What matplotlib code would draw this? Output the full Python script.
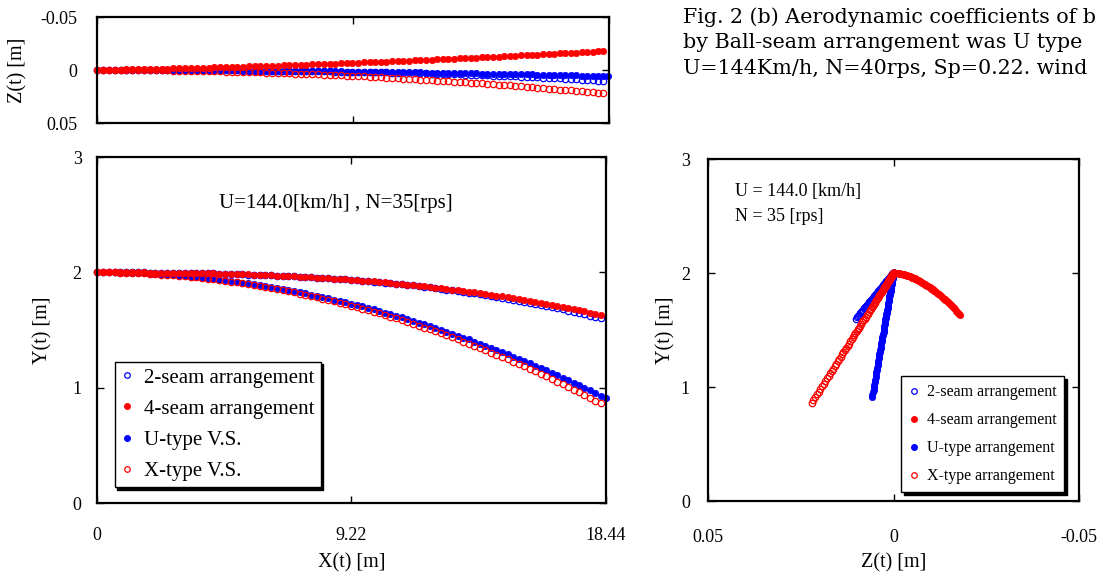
import matplotlib.pyplot as plt
from matplotlib.lines import Line2D

# Position along the pitch X(t) [m] (U-type keeps one more sample)
x_pos = [0.00, 0.21, 0.43, 0.64, 0.85, 1.06, 1.28, 1.49, 1.70, 1.91,
         2.12, 2.33, 2.54, 2.75, 2.97, 3.18, 3.39, 3.60, 3.81, 4.02,
         4.22, 4.43, 4.64, 4.85, 5.06, 5.27, 5.48, 5.69, 5.89, 6.10,
         6.31, 6.52, 6.73, 6.93, 7.14, 7.35, 7.55, 7.76, 7.97, 8.17,
         8.38, 8.58, 8.79, 9.00, 9.20, 9.41, 9.61, 9.82, 10.02, 10.22,
         10.43, 10.63, 10.84, 11.04, 11.24, 11.45, 11.65, 11.85, 12.06, 12.26,
         12.46, 12.66, 12.86, 13.07, 13.27, 13.47, 13.67, 13.87, 14.07, 14.27,
         14.47, 14.68, 14.88, 15.08, 15.28, 15.48, 15.67, 15.87, 16.07, 16.27,
         16.47, 16.67, 16.87, 17.07, 17.27, 17.46, 17.66, 17.86, 18.06, 18.25,
         18.43]

# Height Y(t) [m]
y_2seam = [2.000, 2.000, 2.000, 2.000, 2.000, 1.999, 1.999, 1.999, 1.999, 1.998,
           1.998, 1.997, 1.997, 1.996, 1.995, 1.995, 1.994, 1.993, 1.992, 1.991,
           1.990, 1.989, 1.987, 1.986, 1.985, 1.983, 1.981, 1.980, 1.978, 1.976,
           1.974, 1.972, 1.970, 1.967, 1.965, 1.962, 1.960, 1.957, 1.954, 1.951,
           1.948, 1.945, 1.941, 1.938, 1.934, 1.931, 1.927, 1.923, 1.919, 1.914,
           1.910, 1.905, 1.901, 1.896, 1.891, 1.886, 1.880, 1.875, 1.869, 1.863,
           1.857, 1.851, 1.845, 1.838, 1.832, 1.825, 1.818, 1.811, 1.803, 1.796,
           1.788, 1.780, 1.772, 1.763, 1.755, 1.746, 1.737, 1.728, 1.718, 1.709,
           1.699, 1.689, 1.679, 1.668, 1.657, 1.646, 1.635, 1.624, 1.612, 1.600]
y_4seam = [2.000, 2.000, 2.000, 2.000, 2.000, 1.999, 1.999, 1.999, 1.999, 1.998,
           1.998, 1.997, 1.997, 1.996, 1.995, 1.995, 1.994, 1.993, 1.992, 1.991,
           1.990, 1.989, 1.987, 1.986, 1.985, 1.983, 1.982, 1.980, 1.978, 1.976,
           1.974, 1.972, 1.970, 1.968, 1.965, 1.963, 1.960, 1.958, 1.955, 1.952,
           1.949, 1.946, 1.943, 1.939, 1.936, 1.932, 1.928, 1.925, 1.921, 1.916,
           1.912, 1.908, 1.903, 1.899, 1.894, 1.889, 1.884, 1.879, 1.874, 1.868,
           1.862, 1.857, 1.851, 1.845, 1.839, 1.832, 1.826, 1.819, 1.812, 1.805,
           1.798, 1.791, 1.783, 1.775, 1.768, 1.760, 1.752, 1.743, 1.735, 1.726,
           1.717, 1.708, 1.699, 1.690, 1.680, 1.670, 1.661, 1.651, 1.640, 1.630]
y_utype = [2.000, 2.000, 1.999, 1.999, 1.998, 1.996, 1.995, 1.993, 1.991, 1.988,
           1.986, 1.983, 1.979, 1.976, 1.972, 1.968, 1.963, 1.959, 1.954, 1.948,
           1.943, 1.937, 1.931, 1.924, 1.918, 1.911, 1.904, 1.896, 1.889, 1.881,
           1.872, 1.864, 1.855, 1.846, 1.836, 1.827, 1.817, 1.807, 1.796, 1.786,
           1.775, 1.764, 1.752, 1.740, 1.728, 1.716, 1.704, 1.691, 1.678, 1.665,
           1.651, 1.637, 1.623, 1.609, 1.594, 1.580, 1.564, 1.549, 1.534, 1.518,
           1.502, 1.485, 1.469, 1.452, 1.435, 1.418, 1.400, 1.382, 1.364, 1.346,
           1.328, 1.309, 1.290, 1.270, 1.251, 1.232, 1.211, 1.191, 1.171, 1.150,
           1.129, 1.108, 1.087, 1.065, 1.043, 1.021, 0.999, 0.976, 0.954, 0.930,
           0.910]
y_xtype = [2.000, 2.000, 1.999, 1.999, 1.998, 1.996, 1.994, 1.992, 1.990, 1.988,
           1.985, 1.981, 1.978, 1.974, 1.970, 1.966, 1.961, 1.956, 1.951, 1.945,
           1.939, 1.933, 1.927, 1.920, 1.913, 1.905, 1.898, 1.890, 1.882, 1.873,
           1.864, 1.855, 1.846, 1.836, 1.826, 1.816, 1.806, 1.795, 1.784, 1.772,
           1.761, 1.749, 1.737, 1.724, 1.711, 1.698, 1.685, 1.672, 1.658, 1.644,
           1.629, 1.615, 1.600, 1.584, 1.569, 1.553, 1.537, 1.521, 1.505, 1.488,
           1.471, 1.453, 1.436, 1.418, 1.400, 1.381, 1.363, 1.344, 1.325, 1.305,
           1.286, 1.266, 1.245, 1.225, 1.204, 1.184, 1.162, 1.141, 1.119, 1.097,
           1.075, 1.052, 1.030, 1.007, 0.984, 0.960, 0.936, 0.913, 0.888, 0.864]

# Lateral deviation Z(t) [m]
z_2seam = [0.0000, 0.0000, 0.0000, 0.0000, 0.0000, 0.0000, 0.0000, 0.0000, 0.0000, 0.0000,
           0.0001, 0.0001, 0.0001, 0.0001, 0.0001, 0.0001, 0.0002, 0.0002, 0.0002, 0.0002,
           0.0003, 0.0003, 0.0003, 0.0004, 0.0004, 0.0004, 0.0005, 0.0005, 0.0006, 0.0006,
           0.0007, 0.0007, 0.0008, 0.0008, 0.0009, 0.0010, 0.0010, 0.0011, 0.0012, 0.0012,
           0.0013, 0.0014, 0.0015, 0.0016, 0.0017, 0.0018, 0.0019, 0.0020, 0.0021, 0.0022,
           0.0023, 0.0024, 0.0025, 0.0027, 0.0028, 0.0029, 0.0031, 0.0032, 0.0033, 0.0035,
           0.0036, 0.0038, 0.0040, 0.0041, 0.0043, 0.0045, 0.0046, 0.0048, 0.0050, 0.0052,
           0.0054, 0.0056, 0.0058, 0.0060, 0.0063, 0.0065, 0.0067, 0.0069, 0.0072, 0.0074,
           0.0077, 0.0079, 0.0082, 0.0085, 0.0087, 0.0090, 0.0093, 0.0096, 0.0099, 0.0102]
z_4seam = [0.0000, -0.0001, -0.0002, -0.0003, -0.0004, -0.0005, -0.0006, -0.0008, -0.0009, -0.0010,
           -0.0011, -0.0012, -0.0014, -0.0015, -0.0016, -0.0018, -0.0019, -0.0020, -0.0022, -0.0023,
           -0.0025, -0.0026, -0.0028, -0.0029, -0.0031, -0.0032, -0.0034, -0.0036, -0.0037, -0.0039,
           -0.0041, -0.0042, -0.0044, -0.0046, -0.0048, -0.0050, -0.0051, -0.0053, -0.0055, -0.0057,
           -0.0059, -0.0061, -0.0063, -0.0065, -0.0067, -0.0069, -0.0071, -0.0073, -0.0075, -0.0077,
           -0.0080, -0.0082, -0.0084, -0.0086, -0.0088, -0.0091, -0.0093, -0.0095, -0.0098, -0.0100,
           -0.0102, -0.0105, -0.0107, -0.0110, -0.0112, -0.0114, -0.0117, -0.0119, -0.0122, -0.0125,
           -0.0127, -0.0130, -0.0132, -0.0135, -0.0138, -0.0140, -0.0143, -0.0146, -0.0149, -0.0151,
           -0.0154, -0.0157, -0.0160, -0.0163, -0.0165, -0.0168, -0.0171, -0.0174, -0.0177, -0.0180]
z_utype = [0.0000, 0.0000, 0.0000, 0.0000, 0.0000, 0.0000, 0.0000, 0.0000, 0.0000, 0.0001,
           0.0001, 0.0001, 0.0001, 0.0001, 0.0001, 0.0002, 0.0002, 0.0002, 0.0002, 0.0003,
           0.0003, 0.0003, 0.0004, 0.0004, 0.0004, 0.0005, 0.0005, 0.0006, 0.0006, 0.0006,
           0.0007, 0.0007, 0.0008, 0.0008, 0.0009, 0.0009, 0.0010, 0.0010, 0.0011, 0.0011,
           0.0012, 0.0013, 0.0013, 0.0014, 0.0014, 0.0015, 0.0016, 0.0016, 0.0017, 0.0018,
           0.0018, 0.0019, 0.0020, 0.0021, 0.0022, 0.0022, 0.0023, 0.0024, 0.0025, 0.0026,
           0.0026, 0.0027, 0.0028, 0.0029, 0.0030, 0.0031, 0.0032, 0.0033, 0.0034, 0.0035,
           0.0036, 0.0037, 0.0038, 0.0039, 0.0040, 0.0041, 0.0042, 0.0043, 0.0044, 0.0045,
           0.0046, 0.0047, 0.0048, 0.0050, 0.0051, 0.0052, 0.0053, 0.0054, 0.0055, 0.0057,
           0.0058]
z_xtype = [0.0000, 0.0000, 0.0000, 0.0000, 0.0000, 0.0001, 0.0001, 0.0001, 0.0002, 0.0002,
           0.0003, 0.0004, 0.0004, 0.0005, 0.0006, 0.0007, 0.0008, 0.0009, 0.0010, 0.0011,
           0.0012, 0.0013, 0.0014, 0.0016, 0.0017, 0.0018, 0.0020, 0.0021, 0.0023, 0.0025,
           0.0026, 0.0028, 0.0030, 0.0032, 0.0034, 0.0036, 0.0038, 0.0040, 0.0042, 0.0044,
           0.0046, 0.0049, 0.0051, 0.0054, 0.0056, 0.0059, 0.0061, 0.0064, 0.0066, 0.0069,
           0.0072, 0.0075, 0.0078, 0.0081, 0.0084, 0.0087, 0.0090, 0.0093, 0.0096, 0.0099,
           0.0103, 0.0106, 0.0109, 0.0113, 0.0116, 0.0120, 0.0124, 0.0127, 0.0131, 0.0135,
           0.0139, 0.0142, 0.0146, 0.0150, 0.0154, 0.0158, 0.0163, 0.0167, 0.0171, 0.0175,
           0.0179, 0.0184, 0.0188, 0.0193, 0.0197, 0.0202, 0.0206, 0.0211, 0.0216, 0.0220]

x_ticks = [0, 9.22, 18.44]
x_ticklabels = ['0', '9.22', '18.44']
z_ticks = [-0.05, 0, 0.05]
z_ticklabels = ['-0.05', '0', '0.05']

plt.rcParams['font.family'] = ['Liberation Serif', 'DejaVu Serif']
plt.rcParams['axes.linewidth'] = 1.6

RED = '#ff0000'
BLUE = '#0000ff'
n = len(y_2seam)

fig = plt.figure(figsize=(11.03, 5.77), dpi=100)
ax_top = fig.add_axes([0.0879, 0.7868, 0.464, 0.1837])
ax_xy = fig.add_axes([0.0879, 0.1282, 0.4615, 0.5997])
ax_zy = fig.add_axes([0.6419, 0.1317, 0.3364, 0.5927])


def series(ax, xs_list, ys_list, ms):
    # order: 2-seam, U-type, X-type, 4-seam (red filled drawn last)
    xs2, xs4, xsu, xsx = xs_list
    ys2, ys4, ysu, ysx = ys_list
    ax.plot(xs2, ys2, 'o', ms=ms, mfc='none', mec=BLUE, mew=0.9, clip_on=False)
    ax.plot(xsu, ysu, 'o', ms=ms, mfc=BLUE, mec=BLUE, mew=0.5, clip_on=False)
    ax.plot(xsx, ysx, 'o', ms=ms, mfc='none', mec=RED, mew=0.9, clip_on=False)
    ax.plot(xs4, ys4, 'o', ms=ms, mfc=RED, mec=RED, mew=0.5, clip_on=False)


def style(ax):
    ax.tick_params(direction='in', length=5, width=1, top=True, right=True, labelsize=13)


# top panel: Z vs X
series(ax_top, [x_pos[:n], x_pos[:n], x_pos, x_pos[:n]],
       [z_2seam, z_4seam, z_utype, z_xtype], 4.6)
ax_top.set_xlim(0, 18.44)
ax_top.set_ylim(0.05, -0.05)
ax_top.set_xticks(x_ticks)
ax_top.set_xticklabels([])
ax_top.set_yticks(z_ticks)
ax_top.set_yticklabels(z_ticklabels)
style(ax_top)
ax_top.tick_params(axis='y', pad=14)
ax_top.set_ylabel('Z(t) [m]', fontsize=14.5, va='center')
ax_top.yaxis.set_label_coords(-0.154, 0.5)

# bottom left: Y vs X
series(ax_xy, [x_pos[:n], x_pos[:n], x_pos, x_pos[:n]],
       [y_2seam, y_4seam, y_utype, y_xtype], 4.6)
ax_xy.set_xlim(0, 18.44)
ax_xy.set_ylim(0, 3)
ax_xy.set_xticks(x_ticks)
ax_xy.set_xticklabels(x_ticklabels)
ax_xy.set_yticks([0, 1, 2, 3])
style(ax_xy)
ax_xy.tick_params(axis='x', pad=17)
ax_xy.tick_params(axis='y', pad=11)
ax_xy.set_xlabel('X(t) [m]', fontsize=14.5, va='center')
ax_xy.xaxis.set_label_coords(0.5, -0.173)
ax_xy.set_ylabel('Y(t) [m]', fontsize=14.5, va='center')
ax_xy.yaxis.set_label_coords(-0.106, 0.5)
ax_xy.text(0.47, 0.867, 'U=144.0[km/h] , N=35[rps]', transform=ax_xy.transAxes,
           ha='center', va='center', fontsize=15)

legend_markers = [
    Line2D([], [], ls='none', marker='o', ms=4, mfc='none', mec=BLUE, mew=0.9),
    Line2D([], [], ls='none', marker='o', ms=4, mfc=RED, mec=RED),
    Line2D([], [], ls='none', marker='o', ms=4, mfc=BLUE, mec=BLUE),
    Line2D([], [], ls='none', marker='o', ms=4, mfc='none', mec=RED, mew=0.9),
]
shadow = {'ox': 1.8, 'oy': -1.8, 'facecolor': 'black', 'edgecolor': 'black', 'alpha': 1}

ax_xy.legend(legend_markers,
             ['2-seam arrangement', '4-seam arrangement', 'U-type V.S.', 'X-type V.S.'],
             loc='lower left', bbox_to_anchor=(0.035, 0.046), fontsize=15,
             frameon=True, fancybox=False, shadow=shadow, edgecolor='black',
             framealpha=1, handlelength=0.6, handletextpad=0.5, labelspacing=0.55,
             borderpad=0.3, borderaxespad=0)

# bottom right: Y vs Z
series(ax_zy, [z_2seam, z_4seam, z_utype, z_xtype],
       [y_2seam, y_4seam, y_utype, y_xtype], 4.6)
ax_zy.set_xlim(0.05, -0.05)
ax_zy.set_ylim(0, 3)
ax_zy.set_xticks(z_ticks)
ax_zy.set_xticklabels(z_ticklabels)
ax_zy.set_yticks([0, 1, 2, 3])
style(ax_zy)
ax_zy.tick_params(axis='x', pad=20)
ax_zy.tick_params(axis='y', pad=13)
ax_zy.set_xlabel('Z(t) [m]', fontsize=14.5, va='center')
ax_zy.xaxis.set_label_coords(0.5, -0.181)
ax_zy.set_ylabel('Y(t) [m]', fontsize=14.5, va='center')
ax_zy.yaxis.set_label_coords(-0.113, 0.5)
ax_zy.text(0.073, 0.904, 'U = 144.0 [km/h]', transform=ax_zy.transAxes,
           ha='left', va='center', fontsize=13)
ax_zy.text(0.073, 0.833, 'N = 35 [rps]', transform=ax_zy.transAxes,
           ha='left', va='center', fontsize=13)
ax_zy.legend(legend_markers,
             ['2-seam arrangement', '4-seam arrangement', 'U-type arrangement', 'X-type arrangement'],
             loc='lower right', bbox_to_anchor=(0.96, 0.026), fontsize=11.5,
             frameon=True, fancybox=False, shadow=shadow, edgecolor='black',
             framealpha=1, handlelength=0.6, handletextpad=0.5, labelspacing=0.75,
             borderpad=0.5, borderaxespad=0)

# caption text at top right
caption = ['Fig. 2 (b) Aerodynamic coefficients of b',
           'by Ball-seam arrangement was U type',
           'U=144Km/h, N=40rps, Sp=0.22. wind']
for i, line in enumerate(caption):
    fig.text(683 / 1103, 1 - (17 + 26 * i) / 577, line, ha='left', va='center',
             fontsize=14.9, family=['DejaVu Serif'])

fig.savefig('out.png', dpi=100)
